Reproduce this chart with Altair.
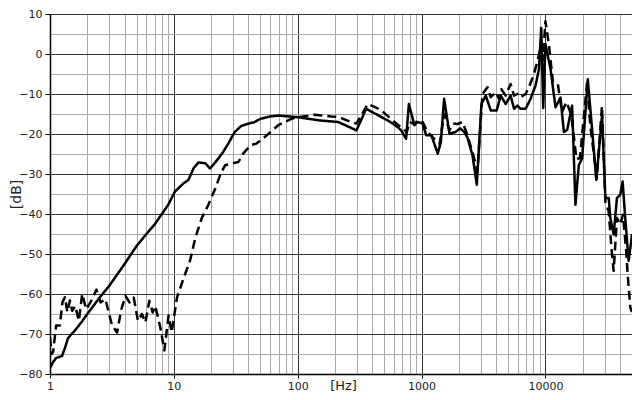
import altair as alt
import pandas as pd

# ---- data: (frequency Hz, level dB) ----
solid = [
    (1, -78.5), (1.06, -77), (1.12, -76), (1.25, -75.5), (1.32, -73.5), (1.4, -71),
    (1.6, -69), (1.8, -67), (2, -65), (2.5, -61), (3, -58), (4, -52.5), (5, -48),
    (6, -45), (7, -42.6), (8, -40), (9, -37.7), (10.2, -34.4), (12, -32.3),
    (13.1, -31.5), (14.4, -28.6), (15.8, -27.1), (17.9, -27.3), (19.6, -28.6),
    (20.9, -27.6), (22.9, -26.1), (25, -24.5), (27.5, -22.4), (31, -19.5),
    (35, -18), (40, -17.4), (45, -17), (50, -16.2), (60, -15.6), (70, -15.4),
    (100, -15.8), (150, -16.6), (212, -17.0), (250, -18.0), (298, -19.1),
    (357, -13.7), (470, -15.7), (560, -17), (643, -18.3), (685, -19.1),
    (750, -21.2), (790, -12.5), (875, -17.8), (930, -17), (1020, -17.4),
    (1090, -20.3), (1200, -20.3), (1350, -24.9), (1430, -22.1), (1520, -11.2),
    (1680, -19.9), (1880, -19.5), (2050, -18.6), (2210, -19.5), (2340, -20.8),
    (2576, -25.3), (2792, -32.7), (3043, -12.5), (3299, -10.4), (3616, -14.1),
    (4042, -14.1), (4356, -10.4), (4773, -12.5), (5237, -10.4), (5580, -13.7),
    (5933, -12.9), (6305, -13.7), (6919, -13.7), (7586, -11.2), (8318, -7.9),
    (8865, -3.8), (9250, 6.5), (9600, -13.5), (10000, 2.5), (11000, -3.8),
    (12060, -13.3), (13240, -10.9), (14090, -19.5), (14970, -19), (16430, -12.9),
    (17470, -37.7), (18600, -27.8), (19780, -26.1), (21980, -6.3), (23790, -18.7),
    (25760, -31.5), (28640, -15.4), (30460, -36), (32430, -36), (33400, -41),
    (35550, -45.1), (37800, -36), (40200, -35.2), (42000, -31.9), (44100, -41),
    (46940, -51.7), (49300, -46.8), (50000, -45),
]

dashed = [
    (1, -70.8), (1.03, -75), (1.06, -74.5), (1.12, -67.9), (1.2, -67.9),
    (1.26, -62.1), (1.32, -60.8), (1.38, -64.5), (1.45, -61.6), (1.51, -64.2),
    (1.6, -63), (1.71, -66.7), (1.82, -60), (1.96, -63.8), (2.12, -62.1),
    (2.37, -58.9), (2.56, -62.1), (2.8, -61.3), (3.17, -67.9), (3.48, -69.6),
    (3.77, -63.8), (4.07, -60.5), (4.38, -62.1), (4.74, -60.9), (5.13, -66.7),
    (5.53, -65), (5.89, -67.1), (6.34, -61.7), (6.74, -64.6), (7.08, -63),
    (7.77, -68.3), (8.38, -74.1), (9.06, -65.4), (9.6, -69.6), (10.6, -60.9),
    (12, -56), (13.5, -51.7), (14.9, -46), (16.8, -41), (19, -37.7),
    (21.6, -33.6), (23.7, -30.2), (25.9, -27.8), (29.3, -27.4), (33.2, -27),
    (36.3, -24.9), (41.6, -22.8), (46.5, -22.4), (54.5, -20.7), (69.6, -17.8),
    (88.8, -16.2), (100, -15.8), (137, -15.2), (186, -15.6), (212, -15.7),
    (250, -16.6), (298, -17.4), (368, -12.5), (470, -14), (565, -16.2),
    (705, -18.7), (760, -19.5), (800, -17), (875, -17.5), (930, -16.6),
    (1020, -17), (1120, -19.5), (1300, -21.6), (1400, -22.5), (1520, -15),
    (1680, -19), (1800, -17.4), (1950, -17.5), (2142, -17), (2349, -20.3),
    (2660, -26.1), (2826, -29.4), (3103, -10), (3403, -8.3), (3616, -10.8),
    (3969, -9.6), (4227, -11.2), (4406, -8.8), (4773, -10.4), (5237, -7.5),
    (5580, -10.4), (5933, -10), (6305, -10.8), (6919, -10), (7366, -8.3),
    (8078, -5), (8590, -2), (9300, 2.8), (9550, -1.5), (10000, 8.2),
    (10700, 2), (11500, -7.1), (12600, -7.5), (13600, -14.5), (14800, -12),
    (16200, -15.3), (17800, -26.3), (19000, -26), (21700, -7), (23000, -17.8),
    (26000, -31), (28600, -13), (30500, -37), (32400, -39.3), (34450, -50),
    (35550, -54.2), (37800, -41), (40200, -42.6), (42270, -40.2), (44900, -49.3),
    (46340, -55.9), (48400, -63.3), (50000, -64.5),
]

x_decades = [1, 10, 100, 1000, 10000]
x_ticks = [m * d for d in x_decades for m in range(1, 10) if m * d <= 50000]
y_ticks = list(range(-80, 11, 5))

rows = []
for i, (f, v) in enumerate(solid):
    rows.append({"f": f, "db": v, "series": "solid", "i": i})
for i, (f, v) in enumerate(dashed):
    rows.append({"f": f, "db": v, "series": "dashed", "i": i})
df = pd.DataFrame(rows)

FONT = "DejaVu Sans"
dec_test = "indexof([1,10,100,1000,10000], datum.value) >= 0"

x_axis = alt.Axis(
    values=x_ticks,
    format="d",
    labelExpr=f"{dec_test} ? datum.label : ''",
    title="[Hz]",
    titleX=293, titleY=11, titleAlign="center", titleBaseline="middle",
    titleFont=FONT, titleFontSize=13, titleFontWeight="normal", titleColor="#222",
    labelFont=FONT, labelFontSize=11, labelColor="#222", labelPadding=2,
    labelFlush=False, labelOverlap=False,
    tickSize=4, tickColor="black",
    tickOpacity={"condition": {"test": dec_test, "value": 1}, "value": 0},
    domainColor="black", domainWidth=1.5,
    gridColor={"condition": {"test": dec_test, "value": "#333"}, "value": "#aaa"},
    gridWidth=1,
)

y_axis = alt.Axis(
    values=y_ticks,
    labelExpr="datum.value % 10 === 0 ? datum.label : ''",
    title="[dB]",
    titleX=-34, titleY=180, titleAngle=270, titleAlign="center", titleBaseline="middle",
    titleFont=FONT, titleFontSize=14, titleFontWeight="normal", titleColor="#222",
    labelFont=FONT, labelFontSize=11, labelColor="#222", labelPadding=3,
    labelFlush=False, labelOverlap=False,
    tickSize=5, tickColor="black",
    tickOpacity={"condition": {"test": "datum.value % 10 === 0", "value": 1}, "value": 0},
    domainColor="black", domainWidth=1.5,
    gridColor={"condition": {"test": "datum.value % 10 === 0", "value": "#333"}, "value": "#aaa"},
    gridWidth=1,
)

chart = (
    alt.Chart(df)
    .mark_line(strokeWidth=2.5, clip=True, strokeJoin="round")
    .encode(
        x=alt.X("f:Q", scale=alt.Scale(type="log", domain=[1, 50000], nice=False), axis=x_axis),
        y=alt.Y("db:Q", scale=alt.Scale(domain=[-80, 10], nice=False), axis=y_axis),
        detail="series:N",
        order="i:Q",
        color=alt.value("black"),
        strokeDash=alt.StrokeDash(
            "series:N",
            scale=alt.Scale(domain=["solid", "dashed"], range=[[1, 0], [9, 5]]),
            legend=None,
        ),
    )
    .properties(
        width=582,
        height=360,
        autosize=alt.AutoSizeParams(type="none"),
        padding={"left": 42, "top": 6, "right": 0, "bottom": 18},
    )
    .configure_view(stroke=None)
    .configure(background="white")
)

chart.save("out.html", embed_options={"renderer": "svg", "actions": False})
